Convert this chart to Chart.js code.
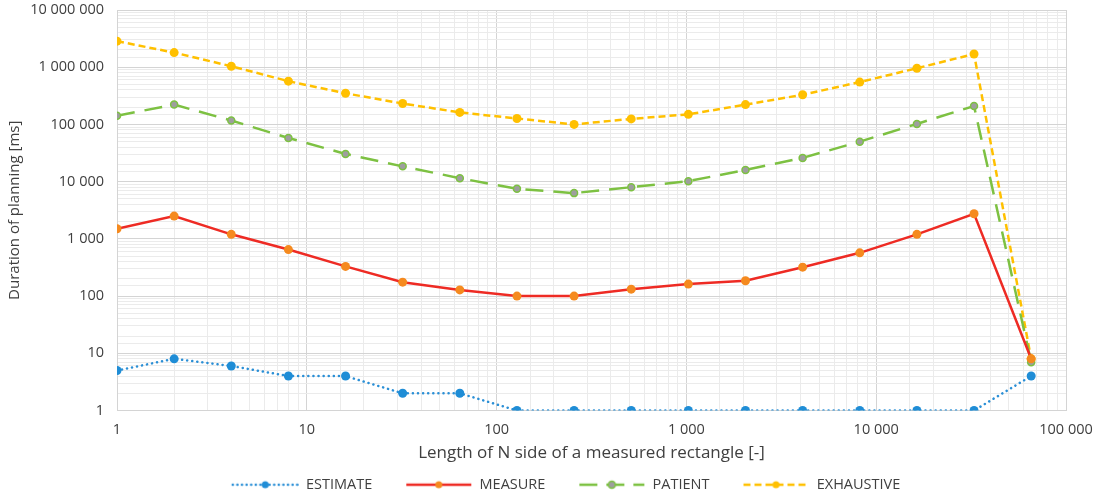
<!DOCTYPE html>
<html>
<head>
<meta charset="utf-8">
<script src="https://cdn.jsdelivr.net/npm/chart.js@4/dist/chart.umd.min.js"></script>
<style>
  html, body { margin: 0; padding: 0; background: #ffffff; }
  #wrap { width: 1100px; height: 497px; position: relative; }
</style>
</head>
<body>
<div id="wrap"><canvas id="c"></canvas></div>
<script>
// Side length N (powers of two)
const sideLength = [1, 2, 4, 8, 16, 32, 64, 128, 256, 512, 1024, 2048, 4096, 8192, 16384, 32768, 65536];

// Planning duration in milliseconds per strategy
const estimate = [5, 8, 6, 4, 4, 2, 2, 1, 1, 1, 1, 1, 1, 1, 1, 1, 4];
const measure = [1500, 2500, 1200, 650, 330, 175, 128, 100, 100, 132, 162, 185, 320, 570, 1200, 2750, 8];
const patient = [142000, 222000, 117000, 58000, 30500, 18500, 11500, 7500, 6300, 8000, 10200, 16000, 26000, 50000, 102000, 210000, 7];
const exhaustive = [2850000, 1800000, 1040000, 570000, 350000, 232000, 162000, 127000, 100000, 125000, 150000, 222000, 330000, 550000, 960000, 1700000, 8];

const seriesNames = ['ESTIMATE', 'MEASURE', 'PATIENT', 'EXHAUSTIVE'];

const FONT = '"Open Sans", "Noto Sans", sans-serif';
const TEXT = '#404040';

function pts(arr) {
  return sideLength.map((x, i) => ({ x: x, y: arr[i] }));
}

function spaced(v) {
  return Math.round(v).toString().replace(/\B(?=(\d{3})+(?!\d))/g, ' ');
}

function isDecade(v) {
  const e = Math.log10(v);
  return Math.abs(e - Math.round(e)) < 1e-9;
}

// Legend swatch: blank lead-in, then a short stroke in the series style with a marker in the middle
const SW_GAP = 24, SW_LEN = 67;
function swatch(ds) {
  const w = SW_GAP + SW_LEN, h = 12;
  const c = document.createElement('canvas');
  c.width = w; c.height = h;
  const g = c.getContext('2d');
  g.strokeStyle = ds.borderColor;
  g.lineWidth = ds.borderWidth;
  g.lineCap = ds.borderCapStyle || 'butt';
  g.setLineDash(ds.legendDash || ds.borderDash || []);
  g.beginPath();
  g.moveTo(SW_GAP + 1, h / 2); g.lineTo(w - 1, h / 2);
  g.stroke();
  g.setLineDash([]);
  g.beginPath();
  g.arc(SW_GAP + SW_LEN / 2, h / 2, 3.5, 0, Math.PI * 2);
  g.fillStyle = ds.pointBackgroundColor;
  g.fill();
  if (ds.pointBorderWidth) {
    g.lineWidth = ds.pointBorderWidth;
    g.strokeStyle = ds.pointBorderColor;
    g.stroke();
  }
  return c;
}

const datasets = [
  {
    label: seriesNames[0], data: pts(estimate),
    borderColor: '#2a8fd6', borderWidth: 2.5, borderDash: [0.1, 5], borderCapStyle: 'round',
    legendDash: [0.1, 4.5],
    pointRadius: 4.5, pointBackgroundColor: '#1f8dd6', pointBorderWidth: 0, pointBorderColor: '#1f8dd6'
  },
  {
    label: seriesNames[1], data: pts(measure),
    borderColor: '#ee2b24', borderWidth: 2.5, borderDash: [],
    pointRadius: 4.5, pointBackgroundColor: '#f58a1f', pointBorderWidth: 0, pointBorderColor: '#f58a1f'
  },
  {
    label: seriesNames[2], data: pts(patient),
    borderColor: '#7dc142', borderWidth: 2.5, borderDash: [18, 10],
    legendDash: [18, 9],
    pointRadius: 3.5, pointBackgroundColor: '#9e9e9e', pointBorderWidth: 1.5, pointBorderColor: '#7dc142'
  },
  {
    label: seriesNames[3], data: pts(exhaustive),
    borderColor: '#ffc000', borderWidth: 2.5, borderDash: [7, 4],
    legendDash: [7, 4],
    pointRadius: 4.5, pointBackgroundColor: '#ffc000', pointBorderWidth: 0, pointBorderColor: '#ffc000'
  }
];
datasets.forEach(d => { d.fill = false; d.tension = 0; d.pointHoverRadius = d.pointRadius; });

const gridColor = ctx => (ctx.tick && isDecade(ctx.tick.value)) ? '#d4d4d4' : '#ebebeb';

// Nudge the legend row a little lower and to the right of the default layout
const legendShift = {
  id: 'legendShift',
  afterLayout(chart) {
    const lg = chart.legend;
    if (lg) {
      lg.top += 5; lg.bottom += 5;
      lg.left += 21; lg.right += 21;
    }
  }
};

new Chart(document.getElementById('c'), {
  type: 'line',
  data: { datasets: datasets },
  plugins: [legendShift],
  options: {
    responsive: true,
    maintainAspectRatio: false,
    animation: false,
    layout: { padding: { left: 0, right: 34, top: 10, bottom: 0 } },
    plugins: {
      tooltip: { enabled: false },
      legend: {
        position: 'bottom',
        labels: {
          usePointStyle: true,
          pointStyleWidth: SW_GAP + SW_LEN,
          boxHeight: 12,
          padding: 9,
          color: TEXT,
          font: { family: FONT, size: 14.5 },
          generateLabels: chart => chart.data.datasets.map((ds, i) => ({
            text: ds.label,
            pointStyle: swatch(ds),
            fillStyle: ds.borderColor,
            strokeStyle: ds.borderColor,
            lineWidth: 0,
            hidden: false,
            datasetIndex: i,
            fontColor: TEXT
          }))
        }
      }
    },
    scales: {
      x: {
        type: 'logarithmic',
        min: 1, max: 100000,
        border: { color: '#d4d4d4' },
        grid: { color: gridColor, drawTicks: false, lineWidth: 1 },
        ticks: {
          autoSkip: false, maxRotation: 0, padding: 11,
          color: TEXT, font: { family: FONT, size: 14.5 },
          callback: v => isDecade(v) ? spaced(v) : ''
        },
        title: {
          display: true, text: 'Length of N side of a measured rectangle [-]',
          color: TEXT, font: { family: FONT, size: 17 }, padding: { top: 2, bottom: 0 }
        },
        afterFit: s => { s.height = 53; s.paddingLeft = 0; s.paddingRight = 0; }
      },
      y: {
        type: 'logarithmic',
        min: 1, max: 10000000,
        border: { color: '#d4d4d4' },
        grid: { color: gridColor, drawTicks: false, lineWidth: 1 },
        ticks: {
          autoSkip: false, padding: 13,
          color: TEXT, font: { family: FONT, size: 14.5 },
          callback: v => isDecade(v) ? spaced(v) : ''
        },
        title: {
          display: true, text: 'Duration of planning [ms]',
          color: TEXT, font: { family: FONT, size: 15 }, padding: { top: 6, bottom: 0 }
        },
        afterFit: s => { s.width = 117; s.paddingTop = 0; s.paddingBottom = 0; }
      }
    }
  }
});
</script>
</body>
</html>
